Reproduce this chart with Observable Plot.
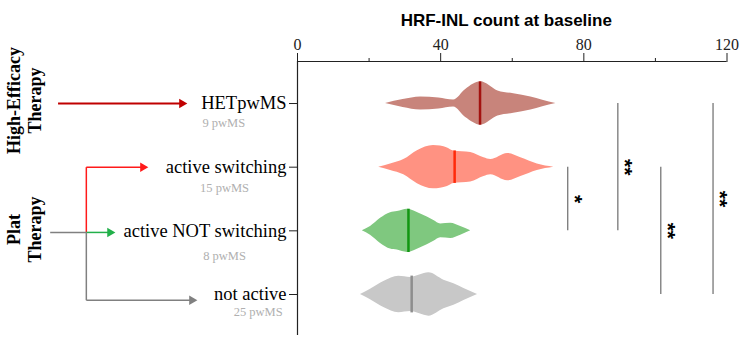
<!DOCTYPE html>
<html>
<head>
<meta charset="utf-8">
<script src="https://cdn.jsdelivr.net/npm/d3@7"></script>
<script src="https://cdn.jsdelivr.net/npm/@observablehq/plot@0.6"></script>
<style>
  body { margin: 0; background: #fff; }
  #chart svg { display: block; }
</style>
</head>
<body>
<div id="chart"></div>
<script>
// ---------------- data ----------------
const title = "HRF-INL count at baseline";
const categories = ["HETpwMS", "active switching", "active NOT switching", "not active"];
const counts = ["9 pwMS", "15 pwMS", "8 pwMS", "25 pwMS"];
const medians = [51.0, 43.9, 31.0, 31.9];
const medianDensity = [1.0, 0.75, 1.0, 0.85];
const majorTicks = [0, 40, 80, 120];
const minorTicks = [20, 60, 100];

// violin profiles: value -> relative density
const hetValues = [24.6, 29.5, 34.4, 39.5, 43.6, 47.0, 51.2, 56.0, 60.4, 65.2, 68.5, 72.2];
const hetDensity = [0, 0.18, 0.3, 0.25, 0.16, 0.65, 1.0, 0.58, 0.45, 0.3, 0.15, 0];
const switchValues = [22.7, 26.0, 29.7, 33.5, 38.0, 41.9, 43.6, 48.4, 52.1, 54.0, 58.7, 62.4, 67.0, 71.6];
const switchDensity = [0, 0.15, 0.35, 0.76, 1.0, 0.89, 0.75, 0.68, 0.43, 0.35, 0.63, 0.43, 0.15, 0];
const notSwitchValues = [18.1, 20.4, 23.2, 26.0, 27.9, 30.7, 34.4, 38.1, 40.0, 42.8, 45.6, 48.4];
const notSwitchDensity = [0, 0.2, 0.58, 0.84, 0.89, 1.0, 0.78, 0.48, 0.32, 0.35, 0.2, 0];
const notActiveValues = [17.6, 20.4, 24.1, 28.3, 31.6, 36.7, 40.9, 43.7, 46.5, 50.3];
const notActiveDensity = [0, 0.24, 0.6, 0.84, 0.79, 1.0, 0.66, 0.5, 0.28, 0];

// significance comparisons (row indices) and labels
const compFrom = [1, 0, 1, 0];
const compTo = [2, 2, 3, 3];
const compLabels = ["*", "**", "**", "**"];

const groupLabels = ["High-Efficacy\nTherapy", "Plat\nTherapy"];

// ---------------- styles / layout ----------------
const fills = ["#c8847b", "#ff9282", "#7fc87f", "#c8c8c8"];
const medianColors = ["#a3120f", "#ff2a0a", "#129612", "#8e8e8e"];
const W = 0.34;              // max violin half-width, in row units
const bracketX = [75.5, 89.5, 101.5, 116.1];
const countX = [-20.6, -20.4, -20.4, -11.0];
const countDY = [0.31, 0.33, 0.39, 0.28];
const groupX = -76.4, groupY = [-0.047, 1.98];

const profiles = [
  [hetValues, hetDensity],
  [switchValues, switchDensity],
  [notSwitchValues, notSwitchDensity],
  [notActiveValues, notActiveDensity]
];

// left-hand flow arrows (annotation geometry in data units)
const links = [
  {x1: -66.9, y1: 0, x2: -32.3, y2: 0, c: "#c00000", w: 2},
  {x1: -59.0, y1: 2.025, x2: -59.0, y2: 1.0, c: "#ff1a1a", w: 1.5},
  {x1: -59.0, y1: 1.0, x2: -43.2, y2: 1.0, c: "#ff1a1a", w: 1.5},
  {x1: -69.1, y1: 2.025, x2: -59.0, y2: 2.025, c: "#808080", w: 1.5},
  {x1: -59.0, y1: 2.025, x2: -52.4, y2: 2.025, c: "#22b04a", w: 1.5},
  {x1: -59.0, y1: 2.025, x2: -59.0, y2: 3.09, c: "#808080", w: 1.5},
  {x1: -59.0, y1: 3.09, x2: -29.5, y2: 3.09, c: "#808080", w: 1.5}
];
const heads = [
  {x: -32.3, y: 0, c: "#c00000"},
  {x: -43.2, y: 1.0, c: "#ff1a1a"},
  {x: -52.4, y: 2.025, c: "#22b04a"},
  {x: -29.5, y: 3.09, c: "#808080"}
];

const serif = "'Liberation Serif', 'Times New Roman', serif";
const sans = "'Liberation Sans', Arial, sans-serif";

const violinMarks = profiles.map(([vals, dens], i) =>
  Plot.areaY(vals.map((v, k) => ({v, d: dens[k]})), {
    x: "v",
    y1: d => i - d.d * W,
    y2: d => i + d.d * W,
    fill: fills[i],
    curve: "monotone-x"
  })
);

const medianRows = medians.map((m, i) => ({i, m, d: medianDensity[i]}));
const brackets = compFrom.map((f, k) => ({x: bracketX[k], from: f, to: compTo[k], label: compLabels[k]}));
const countRows = counts.map((t, i) => ({t, x: countX[i], y: i + countDY[i]}));
const groupRows = groupLabels.map((t, k) => ({t, x: groupX, y: groupY[k]}));

const chart = Plot.plot({
  width: 744,
  height: 340,
  marginLeft: 297,
  marginRight: 17.5,
  marginTop: 61,
  marginBottom: 5,
  style: {fontFamily: serif, background: "#fff", color: "#222"},
  x: {domain: [0, 120], label: null},
  y: {domain: [-0.66, 3.644], reverse: true, label: null},
  marks: [
    ...violinMarks,
    Plot.ruleX(medianRows, {x: "m", y1: d => d.i - d.d * W, y2: d => d.i + d.d * W,
      stroke: d => medianColors[d.i], strokeWidth: 2.5}),
    Plot.ruleX([0], {stroke: "#222", strokeWidth: 1.2}),
    Plot.ruleY([-0.66], {stroke: "#222", strokeWidth: 1.2}),
    Plot.axisX({anchor: "top", ticks: majorTicks, tickSize: 9, tickPadding: 3,
      fontSize: 16, tickFormat: d => String(d), label: null}),
    Plot.axisX({anchor: "top", ticks: minorTicks, tickSize: 4, tickFormat: () => "", label: null}),
    Plot.axisY({anchor: "left", ticks: [0, 1, 2, 3], tickSize: 8, tickPadding: 3,
      fontSize: 18.5, fill: "#000", tickFormat: i => categories[i], label: null}),
    Plot.text([title], {frameAnchor: "top", dy: -48, dx: -6, fontSize: 17,
      fontWeight: "bold", fontFamily: sans, fill: "#000"}),
    // significance brackets
    Plot.ruleX(brackets, {x: "x", y1: "from", y2: "to", stroke: "#777", strokeWidth: 1.3}),
    Plot.text(brackets, {x: "x", y: d => (d.from + d.to) / 2, text: "label", rotate: 90,
      dx: 7, fontSize: 21, fontWeight: "bold", fontFamily: sans, fill: "#000"}),
    // counts under labels
    Plot.text(countRows, {x: "x", y: "y", text: "t", fontSize: 12.5, fill: "#b0b0b0"}),
    // group labels
    Plot.text(groupRows, {x: "x", y: "y", text: "t", rotate: -90, fontSize: 18,
      fontWeight: "bold", lineHeight: 1.17, fill: "#000"}),
    // flow arrows
    Plot.link(links, {x1: "x1", y1: "y1", x2: "x2", y2: "y2", stroke: "c", strokeWidth: "w"}),
    Plot.dot(heads, {x: "x", y: "y", symbol: "triangle", r: 3.5, rotate: 90, fill: "c", stroke: null})
  ]
});

document.getElementById("chart").appendChild(chart);
</script>
</body>
</html>
